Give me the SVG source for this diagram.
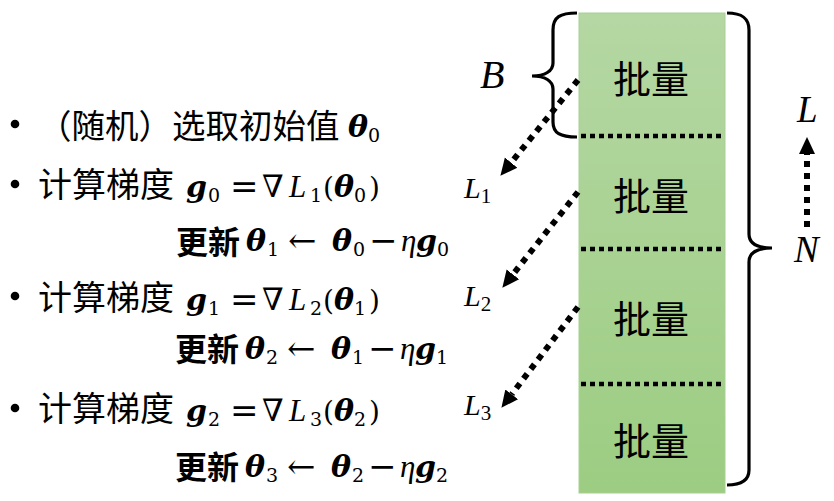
<svg xmlns="http://www.w3.org/2000/svg" width="834" height="501" viewBox="0 0 834 501">
<style>
.cjk{font-family:"Noto Sans CJK SC","Liberation Sans",sans-serif;font-size:34px;fill:#000}
.c1{font-size:33.5px}
.upd{font-family:"Noto Sans CJK SC","Liberation Sans",sans-serif;font-size:32px;font-weight:bold;fill:#000}
.batch{font-family:"Noto Sans CJK SC","Liberation Sans",sans-serif;font-size:38px;fill:#000;text-anchor:middle}
.m{font-family:"DejaVu Serif","Liberation Serif",serif;font-size:28px;fill:#000}
.bi{font-weight:bold;font-style:italic;font-size:30px}
.it{font-style:italic;font-family:"Liberation Serif","DejaVu Serif",serif;font-size:31px}
.s{font-size:19px}
.op{font-size:34px}
.nb{font-size:31px}
.ar{font-size:34px}
.lab{font-family:"Liberation Serif","DejaVu Serif",serif;font-style:italic;fill:#000}
.sep{stroke:#000;stroke-width:4.5;stroke-dasharray:5 4;fill:none}
.arr{stroke:#000;stroke-width:6;stroke-dasharray:6 6;fill:none;marker-end:url(#ah)}
.brace{stroke:#000;stroke-width:3.2;fill:none}
</style>
<defs>
<linearGradient id="g" x1="0" y1="0" x2="0" y2="1">
<stop offset="0" stop-color="#b5d7a3"/>
<stop offset="1" stop-color="#9ccd82"/>
</linearGradient>
<marker id="ah" viewBox="0 -9 18 18" refX="0" refY="0" markerWidth="18" markerHeight="18" markerUnits="userSpaceOnUse" orient="auto">
<path d="M0,-8 L17,0 L0,8 z" fill="#000"/>
</marker>
</defs>

<g id="batches">
<rect x="579" y="13" width="146" height="480" fill="url(#g)" stroke="#a8cf93" stroke-width="1"/>
<g id="batch1"><text class="batch" x="651" y="93">批量</text></g>
<g id="batch2"><text class="batch" x="651" y="210">批量</text></g>
<g id="batch3"><text class="batch" x="651" y="333">批量</text></g>
<g id="batch4"><text class="batch" x="651" y="455">批量</text></g>
<path class="sep" d="M581,136 H723 M581,249 H723 M581,384 H723"/>
</g>

<g id="braces">
<path class="brace" d="M577,13 C560,13 553,17 553,30 L553,63 C553,71 545,76 532,76 C545,76 553,81 553,89 L553,122 C553,133 560,137 577,137"/>
<path class="brace" d="M727,13 C742,13 749,18 749,30 L749,234 C749,243 757,248 772,248 C757,248 749,253 749,262 L749,470 C749,480 742,485 727,485"/>
<text class="lab" x="480" y="88" font-size="40">B</text>
<text class="lab" x="797" y="122" font-size="37">L</text>
<text class="lab" x="794" y="262" font-size="37">N</text>
</g>

<g id="loss-labels">
<text class="lab" x="464" y="198" font-size="30">L<tspan font-style="normal" font-size="21" dy="5">1</tspan></text>
<text class="lab" x="464" y="306" font-size="30">L<tspan font-style="normal" font-size="21" dy="5">2</tspan></text>
<text class="lab" x="464" y="415" font-size="30">L<tspan font-style="normal" font-size="21" dy="5">3</tspan></text>
</g>

<g id="connectors">
<path class="arr" d="M578,80 L511.1,162.6"/>
<path class="arr" d="M578,192 L512.9,274.4"/>
<path class="arr" d="M578,307 L511.7,394.3"/>
<path class="arr" d="M807,227 L807,154"/>
</g>

<g id="steps">
<g id="bullets" fill="#000">
<circle cx="15" cy="124" r="4.3"/>
<circle cx="15" cy="184" r="4.3"/>
<circle cx="15" cy="296" r="4.3"/>
<circle cx="15" cy="408" r="4.3"/>
</g>
<g id="step0">
<text class="cjk c1" x="38" y="138">（随机）选取初始值</text>
<text class="m"><tspan class="bi" x="348" y="137">θ</tspan><tspan class="s" x="368" y="142">0</tspan></text>
</g>
<g id="grad1">
<text class="cjk" x="38" y="197">计算梯度</text>
<text class="m"><tspan class="bi" x="186" y="197">g</tspan><tspan class="s" x="208" y="202">0</tspan><tspan class="op" x="230" y="198">=</tspan><tspan class="nb" x="262" y="197">∇</tspan><tspan class="it" x="289" y="197">L</tspan><tspan class="s" x="310" y="202">1</tspan><tspan x="323" y="197">(</tspan><tspan class="bi" x="334" y="197">θ</tspan><tspan class="s" x="354" y="202">0</tspan><tspan x="369" y="197">)</tspan></text>
</g>
<g id="upd1">
<text class="upd" x="176" y="254">更新</text>
<text class="m"><tspan class="bi" x="246" y="251">θ</tspan><tspan class="s" x="267" y="256">1</tspan><tspan class="ar" x="288" y="252">←</tspan><tspan class="bi" x="332" y="251">θ</tspan><tspan class="s" x="353" y="256">0</tspan><tspan class="op" x="369" y="252">−</tspan><tspan class="it" x="401" y="251">η</tspan><tspan class="bi" x="416" y="251">g</tspan><tspan class="s" x="437" y="256">0</tspan></text>
</g>
<g id="grad2">
<text class="cjk" x="38" y="310">计算梯度</text>
<text class="m"><tspan class="bi" x="186" y="310">g</tspan><tspan class="s" x="208" y="315">1</tspan><tspan class="op" x="230" y="311">=</tspan><tspan class="nb" x="262" y="310">∇</tspan><tspan class="it" x="289" y="310">L</tspan><tspan class="s" x="310" y="315">2</tspan><tspan x="323" y="310">(</tspan><tspan class="bi" x="334" y="310">θ</tspan><tspan class="s" x="354" y="315">1</tspan><tspan x="369" y="310">)</tspan></text>
</g>
<g id="upd2">
<text class="upd" x="175" y="361">更新</text>
<text class="m"><tspan class="bi" x="245" y="359">θ</tspan><tspan class="s" x="266" y="364">2</tspan><tspan class="ar" x="287" y="360">←</tspan><tspan class="bi" x="331" y="359">θ</tspan><tspan class="s" x="352" y="364">1</tspan><tspan class="op" x="368" y="360">−</tspan><tspan class="it" x="400" y="359">η</tspan><tspan class="bi" x="415" y="359">g</tspan><tspan class="s" x="436" y="364">1</tspan></text>
</g>
<g id="grad3">
<text class="cjk" x="38" y="421">计算梯度</text>
<text class="m"><tspan class="bi" x="186" y="421">g</tspan><tspan class="s" x="208" y="426">2</tspan><tspan class="op" x="230" y="422">=</tspan><tspan class="nb" x="262" y="421">∇</tspan><tspan class="it" x="289" y="421">L</tspan><tspan class="s" x="310" y="426">3</tspan><tspan x="323" y="421">(</tspan><tspan class="bi" x="334" y="421">θ</tspan><tspan class="s" x="354" y="426">2</tspan><tspan x="369" y="421">)</tspan></text>
</g>
<g id="upd3">
<text class="upd" x="175" y="479">更新</text>
<text class="m"><tspan class="bi" x="245" y="477">θ</tspan><tspan class="s" x="266" y="482">3</tspan><tspan class="ar" x="287" y="478">←</tspan><tspan class="bi" x="331" y="477">θ</tspan><tspan class="s" x="352" y="482">2</tspan><tspan class="op" x="368" y="478">−</tspan><tspan class="it" x="400" y="477">η</tspan><tspan class="bi" x="415" y="477">g</tspan><tspan class="s" x="436" y="482">2</tspan></text>
</g>
</g>
</svg>
